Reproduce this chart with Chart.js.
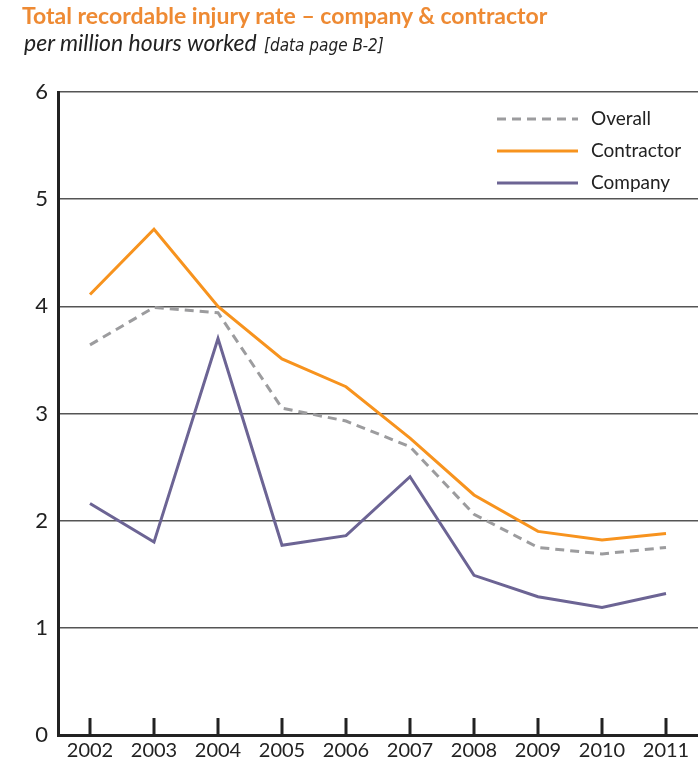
<!DOCTYPE html>
<html>
<head>
<meta charset="utf-8">
<script src="https://cdn.jsdelivr.net/npm/chart.js@4/dist/chart.umd.min.js"></script>
<style>
  body { margin: 0; background: #fff; }
  #wrap { position: relative; width: 698px; height: 764px; }
  #title { position: absolute; left: 22px; top: 1px; font: 700 23px Lato, sans-serif; color: #EE8A33; white-space: nowrap; }
  #sub { position: absolute; left: 24px; top: 28px; font: italic 23px Lato, sans-serif; color: #222; white-space: nowrap; }
  #sub span { font-family: "Liberation Sans Narrow", "DejaVu Sans Condensed", sans-serif; font-stretch: condensed; font-size: 17px; margin-left: 2px; }
  #chart { position: absolute; left: 0; top: 0; }
</style>
</head>
<body>
<div id="wrap">
  <canvas id="chart" width="698" height="764"></canvas>
  <div id="title">Total recordable injury rate – company &amp; contractor</div>
  <div id="sub">per million hours worked <span>[data page B-2]</span></div>
</div>
<script>
const years = ["2002", "2003", "2004", "2005", "2006", "2007", "2008", "2009", "2010", "2011"];
const overall = [3.64, 3.99, 3.94, 3.05, 2.93, 2.69, 2.06, 1.75, 1.69, 1.75];
const contractor = [4.11, 4.72, 4.00, 3.51, 3.25, 2.77, 2.24, 1.90, 1.82, 1.88];
const company = [2.16, 1.80, 3.70, 1.77, 1.86, 2.41, 1.49, 1.29, 1.19, 1.32];
const yTicks = [0, 1, 2, 3, 4, 5, 6];

const FONT = "Lato, sans-serif";

// short ticks pointing up from the x axis, and the legend in the top right
const extras = {
    id: "extras",
    afterDraw(chart) {
        const ctx = chart.ctx;
        const x = chart.scales.x;
        const bottom = chart.chartArea.bottom;
        ctx.save();
        ctx.strokeStyle = "#222";
        ctx.lineWidth = 3;
        for (let i = 0; i < years.length; i++) {
            const px = x.getPixelForTick(i);
            ctx.beginPath();
            ctx.moveTo(px, bottom);
            ctx.lineTo(px, bottom - 17);
            ctx.stroke();
        }
        const rows = [119, 151, 183];
        chart.data.datasets.forEach((ds, i) => {
            ctx.strokeStyle = ds.borderColor;
            ctx.lineWidth = ds.borderWidth;
            ctx.setLineDash(ds.borderDash || []);
            ctx.beginPath();
            ctx.moveTo(497, rows[i]);
            ctx.lineTo(578, rows[i]);
            ctx.stroke();
            ctx.setLineDash([]);
            ctx.fillStyle = "#222";
            ctx.font = "19px " + FONT;
            ctx.textBaseline = "middle";
            ctx.fillText(ds.label, 591, rows[i]);
        });
        ctx.restore();
    }
};

new Chart(document.getElementById("chart"), {
    type: "line",
    data: {
        labels: years,
        datasets: [
            { label: "Overall", data: overall, borderColor: "#9C9C9E", borderWidth: 3, borderDash: [9, 6] },
            { label: "Contractor", data: contractor, borderColor: "#F7931E", borderWidth: 3 },
            { label: "Company", data: company, borderColor: "#6C6494", borderWidth: 3 }
        ]
    },
    options: {
        responsive: false,
        animation: false,
        layout: { padding: { top: 92, right: 0, bottom: 0, left: 0 } },
        elements: { point: { radius: 0 }, line: { tension: 0 } },
        plugins: { legend: { display: false }, tooltip: { enabled: false } },
        scales: {
            x: {
                offset: true,
                afterFit(scale) { scale.height = 29; },
                grid: { display: true, drawOnChartArea: false, drawTicks: false },
                border: { display: true, color: "#222", width: 3 },
                ticks: { color: "#222", padding: 4, font: { family: FONT, size: 20 }, maxRotation: 0 }
            },
            y: {
                min: 0,
                max: 6,
                afterFit(scale) { scale.width = 58; },
                afterBuildTicks(scale) { scale.ticks = yTicks.map(v => ({ value: v })); },
                grid: { color: "#555", lineWidth: 1.5, drawTicks: false },
                border: { display: true, color: "#222", width: 3 },
                ticks: { color: "#222", padding: 10, font: { family: FONT, size: 22 } }
            }
        }
    },
    plugins: [extras]
});
</script>
</body>
</html>
